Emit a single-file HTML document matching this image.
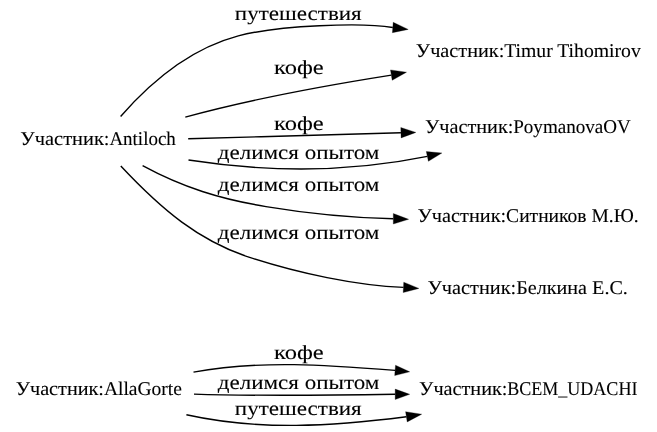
<!DOCTYPE html><html><head><meta charset="utf-8"><style>html,body{margin:0;padding:0;background:#fff;overflow:hidden}svg{display:block;filter:grayscale(1)}text{text-rendering:geometricPrecision}</style></head><body>
<svg width="657" height="432" viewBox="0 0 657 432">
<rect width="657" height="432" fill="#fff"/>
<g fill="none" stroke="#000" stroke-width="1.4">
<path d="M120.6,116.5C157.7,74.0 197.8,46.6 238.3,35.9C279.0,25.1 362.5,22.3 392.8,27.5"/>
<path d="M185.3,117.1C252.7,98.6 322.3,86.0 391.4,75.1"/>
<path d="M188.2,138.7C259.1,136.8 330.1,134.7 400.9,132.7"/>
<path d="M188.5,160.0C267.8,172.3 348.5,172.6 427.4,156.4"/>
<path d="M142.6,165.6C182.9,187.5 220.5,199.0 266.0,206.6C312.9,214.4 346.6,217.6 393.3,218.8"/>
<path d="M120.8,166.0C162.3,210.3 199.1,240.8 249.6,257.4C297.7,273.1 356.8,285.8 403.5,287.4"/>
<path d="M193.5,372.1C260.3,359.8 328.0,365.1 395.1,370.4"/>
<path d="M194.0,394.1C260.9,396.3 328.3,395.3 395.2,394.3"/>
<path d="M186.4,414.8C259.1,430.9 333.2,426.3 406.4,416.8"/>
</g>
<g fill="#000" stroke="#000" stroke-width="0.3" stroke-linejoin="miter">
<polygon points="393.2,22.3 392.4,32.7 408.2,29.4"/>
<polygon points="390.5,69.9 392.2,80.3 406.5,72.2"/>
<polygon points="400.8,127.5 401.1,137.9 415.9,132.4"/>
<polygon points="426.3,151.5 428.4,161.3 441.9,153.0"/>
<polygon points="393.3,213.5 393.3,224.0 408.6,219.3"/>
<polygon points="403.75,282.15 403.2,292.6 418.9,288.4"/>
<polygon points="395.5,365.2 394.7,375.6 409.7,371.8"/>
<polygon points="395.2,389.1 395.2,399.5 409.7,394.3"/>
<polygon points="405.6,411.7 407.2,421.9 421.7,414.2"/>
</g>
<g font-family='"Liberation Serif", serif' fill="#000" stroke="#000" stroke-width="0.1">
<text font-size="19.5" transform="translate(20.35,145.4) scale(1.0458,1.0)">Участник:</text>
<text font-size="19.5" transform="translate(109.40,145.4) scale(0.9735,1.0)">Antiloch</text>
<text font-size="19.5" transform="translate(415.86,57.4) scale(1.0373,1.0)">Участник:</text>
<text font-size="19.5" transform="translate(504.20,57.4) scale(1.0096,1.0)">Timur Tihomirov</text>
<text font-size="19.5" transform="translate(425.06,133.4) scale(1.0361,1.0)">Участник:</text>
<text font-size="19.5" transform="translate(513.22,133.4) scale(0.9782,1.0)">PoymanovaOV</text>
<text font-size="19.5" transform="translate(417.46,221.8) scale(1.0410,1.0)">Участник:</text>
<text font-size="19.5" transform="translate(506.10,221.8) scale(1.0023,1.0)">Ситников М.Ю.</text>
<text font-size="19.5" transform="translate(427.46,293.7) scale(1.0422,1.0)">Участник:</text>
<text font-size="19.5" transform="translate(516.27,293.7) scale(1.0321,1.0)">Белкина Е.С.</text>
<text font-size="19.5" transform="translate(15.66,394.7) scale(1.0361,1.0)">Участник:</text>
<text font-size="19.5" transform="translate(103.90,394.7) scale(1.0000,1.0)">AllaGorte</text>
<text font-size="19.5" transform="translate(419.06,394.7) scale(1.0373,1.0)">Участник:</text>
<text font-size="19.5" transform="translate(507.28,394.7) scale(0.9234,1.0)">ВСЕМ_</text>
<text font-size="19.5" transform="translate(567.17,394.7) scale(0.9270,1.0)">UDACHI</text>
<text font-size="20.0" transform="translate(234.85,20.0) scale(1.1528,1.0)">путешествия</text>
<text font-size="20.0" transform="translate(274.07,73.6) scale(1.2256,1.0)">кофе</text>
<text font-size="20.0" transform="translate(274.07,129.7) scale(1.2256,1.0)">кофе</text>
<text font-size="20.0" transform="translate(217.80,158.9) scale(1.1514,1.0)">делимся опытом</text>
<text font-size="20.0" transform="translate(217.80,190.8) scale(1.1514,1.0)">делимся опытом</text>
<text font-size="20.0" transform="translate(217.80,239.1) scale(1.1514,1.0)">делимся опытом</text>
<text font-size="20.0" transform="translate(274.07,359.0) scale(1.2256,1.0)">кофе</text>
<text font-size="20.0" transform="translate(217.80,389.0) scale(1.1514,1.0)">делимся опытом</text>
<text font-size="20.0" transform="translate(234.85,414.7) scale(1.1528,1.0)">путешествия</text>
</g></svg></body></html>
